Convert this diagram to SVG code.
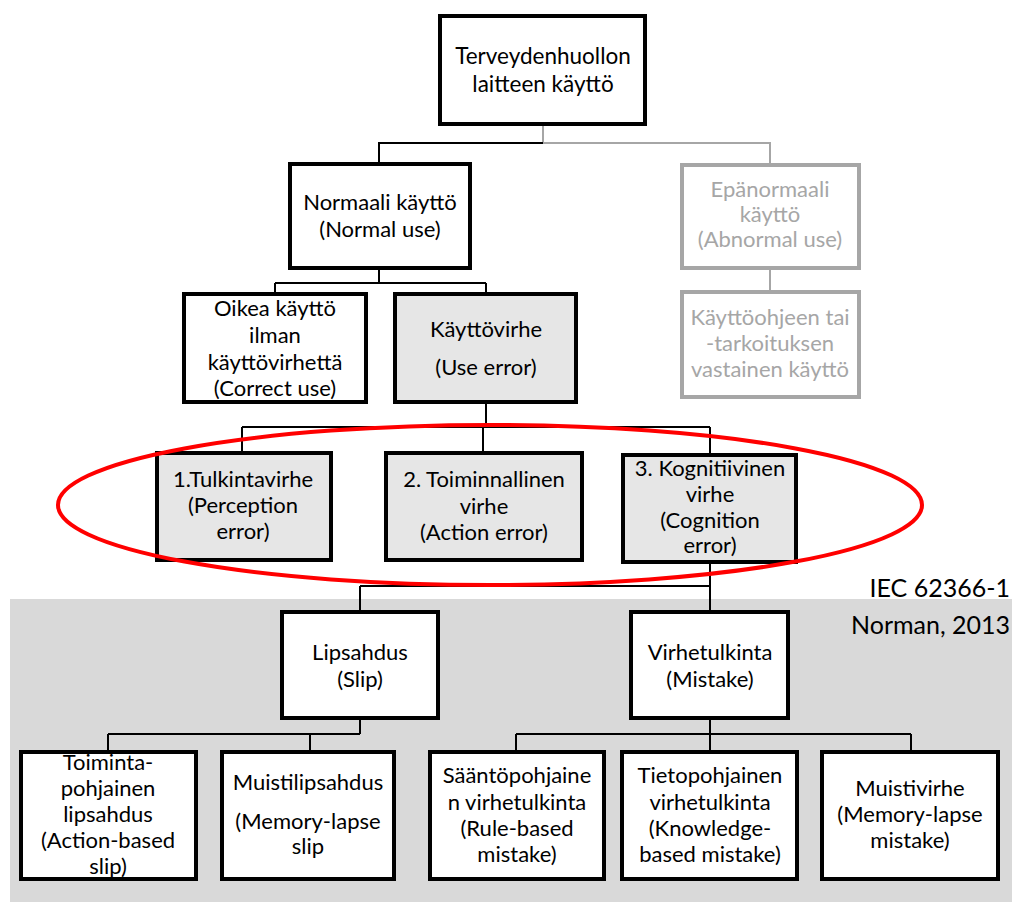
<svg xmlns="http://www.w3.org/2000/svg" width="1012" height="902" viewBox="0 0 1012 902">
  <style>
    .box { fill: #ffffff; stroke: #000000; stroke-width: 4; }
    .err { fill: #e6e6e6; }
    .dim { fill: #ffffff; stroke: #a6a6a6; stroke-width: 4; }
    .t { font-family: Lato, "Open Sans", "Liberation Sans", sans-serif; font-size: 22px; text-anchor: middle; fill: #000000; }
    .big { font-size: 22.5px; }
    .gt { fill: #a6a6a6; }
    .src { font-family: Lato, "Open Sans", "Liberation Sans", sans-serif; font-size: 25px; text-anchor: end; fill: #000000; }
    .c { stroke: #000000; stroke-width: 2; fill: none; }
    .cg { stroke: #a6a6a6; stroke-width: 2; fill: none; }
  </style>

  <!-- shaded band behind the slip / mistake taxonomy -->
  <rect x="10" y="599" width="1002" height="303" fill="#d9d9d9"/>

  <!-- source notes -->
  <text class="src" x="1010" y="597">IEC 62366-1</text>
  <text class="src" x="1010" y="634">Norman, 2013</text>

  <!-- connectors -->
  <g id="connectors">
    <path class="cg" d="M543 124 V143 H770 V165"/>
    <path class="c" d="M543 143 H379 V164"/>
    <path class="cg" d="M770 268 V292"/>
    <path class="c" d="M379 268 V283 M275 283 H486 M275 283 V294 M486 283 V294"/>
    <path class="c" d="M486 402 V427 M242 427 H710 M242 427 V453 M483 427 V453 M710 427 V455"/>
    <path class="c" d="M710 562 V586 M360 586 H710 M360 586 V612 M710 586 V612"/>
    <path class="c" d="M360 718 V734 M108 734 H360 M108 734 V752 M310 734 V752"/>
    <path class="c" d="M710 718 V734 M516 734 H911 M516 734 V752 M710 734 V752 M911 734 V752"/>
  </g>

  <g id="n-root">
    <rect class="box" x="440" y="16" width="205" height="108"/>
    <text class="t big" x="543" y="64">Terveydenhuollon</text>
    <text class="t big" x="543" y="92">laitteen käyttö</text>
  </g>

  <g id="n-normal">
    <rect class="box" x="290" y="164" width="180" height="104"/>
    <text class="t" x="380" y="210">Normaali käyttö</text>
    <text class="t" x="380" y="237">(Normal use)</text>
  </g>

  <g id="n-abnormal">
    <rect class="dim" x="682" y="165" width="177" height="103"/>
    <text class="t gt" x="770" y="197">Epänormaali</text>
    <text class="t gt" x="770" y="222">käyttö</text>
    <text class="t gt" x="770" y="247">(Abnormal use)</text>
  </g>

  <g id="n-offlabel">
    <rect class="dim" x="682" y="292" width="177" height="105"/>
    <text class="t gt" x="770" y="325">Käyttöohjeen tai</text>
    <text class="t gt" x="770" y="351">-tarkoituksen</text>
    <text class="t gt" x="770" y="377">vastainen käyttö</text>
  </g>

  <g id="n-correct">
    <rect class="box" x="184" y="294" width="182" height="108"/>
    <text class="t" x="275" y="316">Oikea käyttö</text>
    <text class="t" x="275" y="343">ilman</text>
    <text class="t" x="275" y="370">käyttövirhettä</text>
    <text class="t" x="275" y="396">(Correct use)</text>
  </g>

  <g id="n-useerror">
    <rect class="box err" x="395" y="294" width="181" height="108"/>
    <text class="t" x="486" y="337">Käyttövirhe</text>
    <text class="t" x="486" y="375">(Use error)</text>
  </g>

  <g id="n-perception">
    <rect class="box err" x="157" y="453" width="174" height="107"/>
    <text class="t" x="243" y="487">1.Tulkintavirhe</text>
    <text class="t" x="243" y="513">(Perception</text>
    <text class="t" x="243" y="539">error)</text>
  </g>

  <g id="n-action">
    <rect class="box err" x="386" y="453" width="196" height="107"/>
    <text class="t" x="484" y="487">2. Toiminnallinen</text>
    <text class="t" x="484" y="514">virhe</text>
    <text class="t" x="484" y="540">(Action error)</text>
  </g>

  <g id="n-cognition">
    <rect class="box err" x="623" y="455" width="173" height="107"/>
    <text class="t" x="710" y="476">3. Kognitiivinen</text>
    <text class="t" x="710" y="502">virhe</text>
    <text class="t" x="710" y="528">(Cognition</text>
    <text class="t" x="710" y="553">error)</text>
  </g>

  <!-- highlight around the three error categories -->
  <ellipse cx="490" cy="505" rx="432" ry="80" fill="none" stroke="#ff0000" stroke-width="4"/>

  <g id="n-slip">
    <rect class="box" x="282" y="612" width="156" height="106"/>
    <text class="t" x="360" y="660">Lipsahdus</text>
    <text class="t" x="360" y="687">(Slip)</text>
  </g>

  <g id="n-mistake">
    <rect class="box" x="631" y="612" width="157" height="106"/>
    <text class="t" x="710" y="660">Virhetulkinta</text>
    <text class="t" x="710" y="687">(Mistake)</text>
  </g>

  <g id="n-actionslip">
    <rect class="box" x="21" y="752" width="175" height="127"/>
    <text class="t" x="108" y="770">Toiminta-</text>
    <text class="t" x="108" y="796">pohjainen</text>
    <text class="t" x="108" y="822">lipsahdus</text>
    <text class="t" x="108" y="848">(Action-based</text>
    <text class="t" x="108" y="874">slip)</text>
  </g>

  <g id="n-memoryslip">
    <rect class="box" x="222" y="752" width="172" height="127"/>
    <text class="t" x="308" y="790">Muistilipsahdus</text>
    <text class="t" x="308" y="829">(Memory-lapse</text>
    <text class="t" x="308" y="854">slip</text>
  </g>

  <g id="n-rulebased">
    <rect class="box" x="430" y="752" width="174" height="127"/>
    <text class="t" x="517" y="783">Sääntöpohjaine</text>
    <text class="t" x="517" y="810">n virhetulkinta</text>
    <text class="t" x="517" y="836">(Rule-based</text>
    <text class="t" x="517" y="862">mistake)</text>
  </g>

  <g id="n-knowledge">
    <rect class="box" x="622" y="752" width="175" height="127"/>
    <text class="t" x="710" y="783">Tietopohjainen</text>
    <text class="t" x="710" y="810">virhetulkinta</text>
    <text class="t" x="710" y="836">(Knowledge-</text>
    <text class="t" x="710" y="862">based mistake)</text>
  </g>

  <g id="n-memorymistake">
    <rect class="box" x="822" y="752" width="176" height="127"/>
    <text class="t" x="910" y="796">Muistivirhe</text>
    <text class="t" x="910" y="822">(Memory-lapse</text>
    <text class="t" x="910" y="848">mistake)</text>
  </g>
</svg>
